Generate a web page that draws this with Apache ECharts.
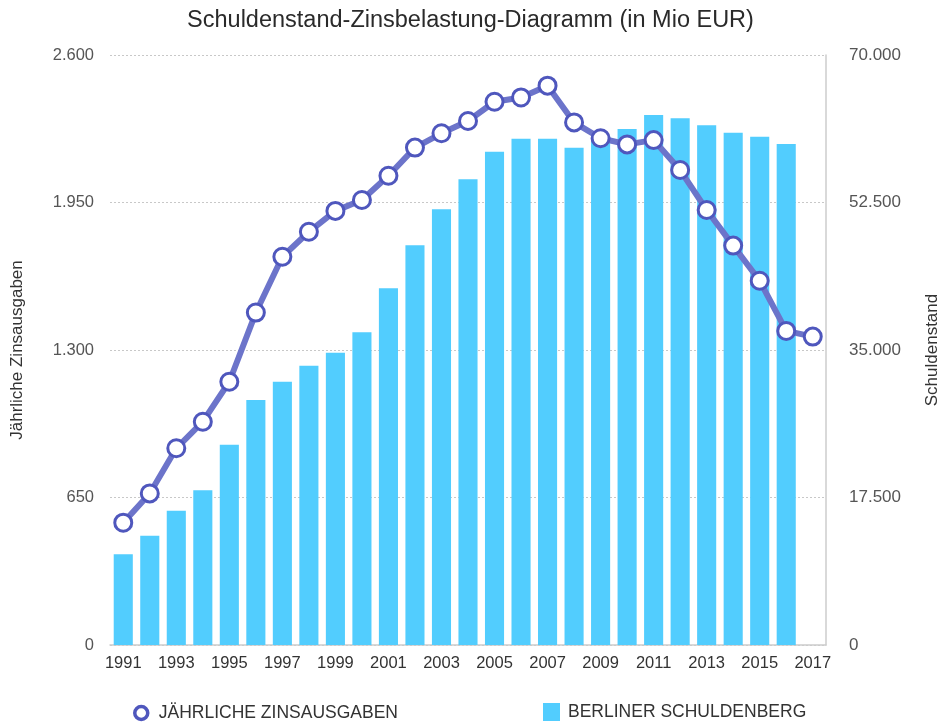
<!DOCTYPE html>
<html>
<head>
<meta charset="utf-8">
<script src="https://cdn.jsdelivr.net/npm/echarts@6/dist/echarts.min.js"></script>
<style>html,body{margin:0;padding:0;background:#fff}#c{width:941px;height:722px}</style>
</head>
<body>
<div id="c"></div>
<script>
var years = ['1991','1992','1993','1994','1995','1996','1997','1998','1999','2000','2001','2002','2003','2004','2005','2006','2007','2008','2009','2010','2011','2012','2013','2014','2015','2016','2017'];
var zinsausgaben = [539,668,867,984,1160,1465,1711,1821,1913,1961,2068,2192,2255,2309,2394,2413,2465,2303,2233,2206,2225,2093,1917,1760,1605,1384,1359];
var schuldenstand = [10760,12970,15935,18350,23765,29070,31240,33140,34680,37100,42320,47420,51690,55250,58530,60070,60070,59000,60400,61220,62880,62490,61660,60780,60310,59440,null];
var leftTicks = [0,650,1300,1950,2600];
var rightTicks = [0,17500,35000,52500,70000];
var lineName = 'JÄHRLICHE ZINSAUSGABEN';
var barName = 'BERLINER SCHULDENBERG';

function de(v){ return String(v).replace(/\B(?=(\d{3})+(?!\d))/g,'.'); }
var FONT = 'Liberation Sans';
var chart = echarts.init(document.getElementById('c'));
chart.setOption({
  animation:false,
  textStyle:{fontFamily:FONT},
  title:{text:'Schuldenstand-Zinsbelastung-Diagramm (in Mio EUR)',left:'center',top:4,
    textStyle:{fontSize:23.5,fontWeight:'normal',color:'#2a2a2a',fontFamily:FONT}},
  legend:[
    {data:[{name:lineName,icon:'circle',itemStyle:{color:'#ffffff',borderColor:'#4F57BD',borderWidth:3.5}}],
     left:128,top:699,itemWidth:13,itemHeight:13,
     textStyle:{fontSize:17.5,color:'#333',padding:[0,0,0,6]}},
    {data:[{name:barName,icon:'rect'}],left:538,top:698,itemWidth:17,itemHeight:18,
     textStyle:{fontSize:17.5,color:'#333',padding:[0,0,0,3]}}
  ],
  grid:{left:110,right:115,top:55,bottom:77,containLabel:false,outerBoundsMode:'none'},
  xAxis:{type:'category',data:years,boundaryGap:true,
    axisLine:{lineStyle:{color:'#ccc',width:1.5}},axisTick:{show:false},
    axisLabel:{interval:1,fontSize:16.5,color:'#333',margin:10}},
  yAxis:[
    {type:'value',min:0,max:2600,interval:650,position:'left',
     name:'Jährliche Zinsausgaben',nameLocation:'middle',nameGap:84,
     nameTextStyle:{fontSize:17,color:'#333'},
     axisLine:{show:false},axisTick:{show:false},
     axisLabel:{fontSize:16.5,color:'#555',margin:16,formatter:function(v){return de(v);}},
     splitLine:{lineStyle:{color:'#c8c8c8',type:[2,2]}}},
    {type:'value',min:0,max:70000,interval:17500,position:'right',
     name:'Schuldenstand',nameLocation:'middle',nameGap:98,
     nameTextStyle:{fontSize:17,color:'#333'},
     axisLine:{show:true,lineStyle:{color:'#ccc',width:1.5}},axisTick:{show:false},
     axisLabel:{fontSize:17,color:'#555',margin:23,formatter:function(v){return de(v);}},
     splitLine:{show:false}}
  ],
  series:[
    {name:barName,type:'bar',yAxisIndex:1,data:schuldenstand,barWidth:'72%',
     itemStyle:{color:'#52CDFE'},z:2},
    {name:lineName,type:'line',yAxisIndex:0,data:zinsausgaben,
     symbol:'circle',symbolSize:17,
     lineStyle:{color:'#6C74CA',width:6},
     itemStyle:{color:'#ffffff',borderColor:'#4F57BD',borderWidth:3},z:5}
  ]
});
</script>
</body>
</html>
